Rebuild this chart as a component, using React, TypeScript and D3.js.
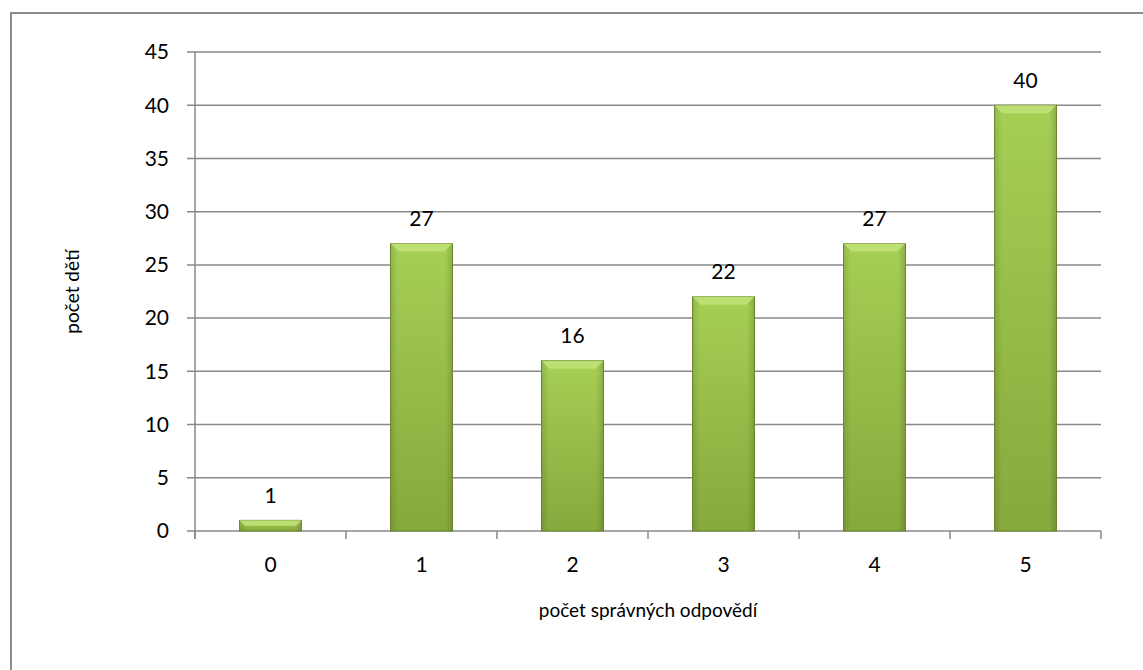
import React, { useEffect, useRef } from 'react';
import * as d3 from 'd3';

const categories = ['0', '1', '2', '3', '4', '5'];
const values = [1, 27, 16, 22, 27, 40];
const yTicks = [0, 5, 10, 15, 20, 25, 30, 35, 40, 45];
const xTitle = 'počet správných odpovědí';
const yTitle = 'počet dětí';

const W = 1143, H = 670;
const FONT = 'Lato, "Open Sans", sans-serif';
const FS = 19;
const NUM = 21;

export default function App() {
  const ref = useRef<SVGSVGElement>(null);

  useEffect(() => {
    const svg = d3.select(ref.current);
    svg.selectAll('*').remove();

    const left = 195, right = 1101, top = 52, bottom = 531;

    const x = d3.scaleBand().domain(categories).range([left, right]).paddingInner(0.59).paddingOuter(0.295);
    const xOuter = d3.scaleBand().domain(categories).range([left, right]);
    const y = d3.scaleLinear().domain([0, 45]).range([bottom, top]);

    const defs = svg.append('defs');
    const grad = defs.append('linearGradient').attr('id', 'barGrad').attr('x1', 0).attr('y1', 0).attr('x2', 0).attr('y2', 1);
    grad.append('stop').attr('offset', '0%').attr('stop-color', '#a6cf55');
    grad.append('stop').attr('offset', '100%').attr('stop-color', '#86a93c');
    const side = defs.append('linearGradient').attr('id', 'sideGrad').attr('x1', 0).attr('y1', 0).attr('x2', 1).attr('y2', 0);
    side.append('stop').attr('offset', '0%').attr('stop-color', '#000').attr('stop-opacity', 0.12);
    side.append('stop').attr('offset', '12%').attr('stop-color', '#000').attr('stop-opacity', 0);
    side.append('stop').attr('offset', '88%').attr('stop-color', '#000').attr('stop-opacity', 0);
    side.append('stop').attr('offset', '100%').attr('stop-color', '#000').attr('stop-opacity', 0.15);

    // outer chart border
    svg.append('rect').attr('x', 11).attr('y', 13).attr('width', W + 20).attr('height', H + 20)
      .attr('fill', 'none').attr('stroke', '#8c8c8c').attr('stroke-width', 2);

    // gridlines + y ticks
    const g = svg.append('g');
    g.selectAll('.grid').data(yTicks).join('line')
      .attr('x1', left - 8).attr('x2', right)
      .attr('y1', d => y(d)).attr('y2', d => y(d))
      .attr('stroke', '#898989').attr('stroke-width', 1.5);
    g.selectAll('.ylab').data(yTicks).join('text')
      .attr('x', 169).attr('y', d => y(d)).attr('dy', '0.35em')
      .attr('text-anchor', 'end').attr('font-family', FONT).attr('font-size', NUM).attr('fill', '#000')
      .text(d => d);

    // y axis line
    g.append('line').attr('x1', left).attr('x2', left).attr('y1', top).attr('y2', bottom + 8)
      .attr('stroke', '#898989').attr('stroke-width', 1.5);
    // x tick marks at boundaries
    const bounds = categories.map(c => xOuter(c)!).concat([right]);
    g.selectAll('.xt').data(bounds).join('line')
      .attr('x1', d => d).attr('x2', d => d).attr('y1', bottom).attr('y2', bottom + 8)
      .attr('stroke', '#898989').attr('stroke-width', 1.5);

    // bars
    const bw = x.bandwidth();
    const bars = svg.selectAll('.bar').data(values).join('g');
    bars.append('rect')
      .attr('x', (d, i) => x(categories[i])!).attr('y', d => y(d))
      .attr('width', bw).attr('height', d => bottom - y(d))
      .attr('fill', 'url(#barGrad)').attr('stroke', '#6f8c30').attr('stroke-width', 1);
    bars.append('rect')
      .attr('x', (d, i) => x(categories[i])!).attr('y', d => y(d))
      .attr('width', bw).attr('height', d => bottom - y(d))
      .attr('fill', 'url(#sideGrad)');
    bars.append('path')
      .attr('d', (d, i) => {
        const x0 = x(categories[i])!, y0 = y(d);
        const b = Math.min(8, (bottom - y0) / 2);
        return `M${x0},${y0}L${x0 + bw},${y0}L${x0 + bw - b},${y0 + b}L${x0 + b},${y0 + b}Z`;
      })
      .attr('fill', '#c3e47c').attr('opacity', 0.8);

    // data labels
    svg.selectAll('.dl').data(values).join('text')
      .attr('x', (d, i) => x(categories[i])! + bw / 2).attr('y', d => y(d) - 25).attr('dy', '0.35em')
      .attr('text-anchor', 'middle').attr('font-family', FONT).attr('font-size', NUM).attr('fill', '#000')
      .text(d => d);

    // x labels
    svg.selectAll('.xl').data(categories).join('text')
      .attr('x', d => xOuter(d)! + xOuter.bandwidth() / 2).attr('y', 565).attr('dy', '0.35em')
      .attr('text-anchor', 'middle').attr('font-family', FONT).attr('font-size', NUM).attr('fill', '#000')
      .text(d => d);

    // axis titles
    svg.append('text').attr('x', (left + right) / 2).attr('y', 610).attr('dy', '0.35em')
      .attr('text-anchor', 'middle').attr('font-family', FONT).attr('font-size', FS).attr('fill', '#000')
      .text(xTitle);
    svg.append('text').attr('transform', `translate(72,${(top + bottom) / 2}) rotate(-90)`).attr('dy', '0.35em')
      .attr('text-anchor', 'middle').attr('font-family', FONT).attr('font-size', FS).attr('fill', '#000')
      .text(yTitle);
  }, []);

  return (
    <svg ref={ref} width={W} height={H} style={{ position: 'absolute', left: 0, top: 0, background: '#fff' }} />
  );
}
